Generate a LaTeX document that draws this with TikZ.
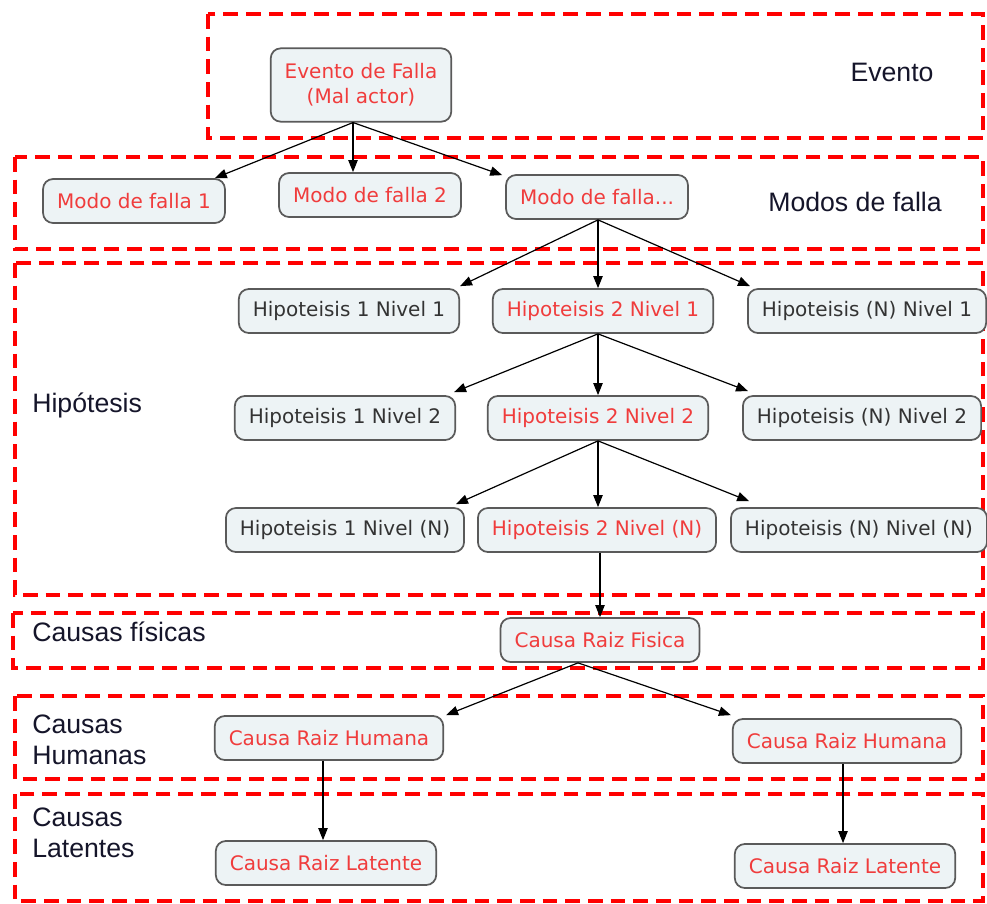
\documentclass[tikz,border=0pt]{standalone}
\usepackage{fontspec}
\setmainfont{DejaVu Sans}
\newfontfamily\labelfont{Liberation Sans}
\usetikzlibrary{arrows.meta,calc}

\definecolor{boxfill}{HTML}{EDF3F5}
\definecolor{boxline}{HTML}{5A5A5A}
\definecolor{redtext}{HTML}{F03C3C}
\definecolor{graytext}{HTML}{333333}
\definecolor{labeltext}{HTML}{15152A}

\tikzset{
  region/.style={draw=red, line width=2.4pt, dash pattern=on 11pt off 6pt},
  nodebox/.style={draw=boxline, fill=boxfill, line width=1.3pt, rounded corners=7.5pt,
    minimum height=33pt, inner xsep=10.5pt, inner ysep=2pt,
    font=\fontsize{15pt}{18.75pt}\selectfont, align=center},
  redbox/.style={nodebox, text=redtext},
  graybox/.style={nodebox, text=graytext},
  lbl/.style={font=\labelfont\fontsize{20pt}{23pt}\selectfont, text=labeltext, align=left, inner sep=0pt},
  link/.style={draw=black, line width=0.9pt, -{Triangle[length=9pt,width=7pt]}}
}

\begin{document}
\begin{tikzpicture}[x=0.75pt, y=-0.75pt]
\useasboundingbox (0,0) rectangle (987,903);

% dashed regions
\draw[region] (208,14) rectangle (983,138);
\draw[region] (15,157) rectangle (983,249);
\draw[region] (15,263) rectangle (983,595);
\draw[region] (13,613) rectangle (983,668);
\draw[region] (15,696) rectangle (983,779);
\draw[region] (15,794) rectangle (983,901);

% region labels
\node[lbl] (lev) at (892,72) {Evento};
\node[lbl] (lmod) at (855,202) {Modos de falla};
\node[lbl, anchor=west] (lhip) at (32,405) {Hipótesis};
\node[lbl, anchor=west] (lfis) at (32,632) {Causas físicas};
\node[lbl, anchor=west] (lhum) at (32,740) {Causas\\Humanas};
\node[lbl, anchor=west] (llat) at (32,833) {Causas\\Latentes};

% event
\node[redbox, minimum height=55pt] (ev) at (361,85) {Evento de Falla\\(Mal actor)};

% failure modes
\node[redbox] (m1) at (134,201) {Modo de falla 1};
\node[redbox] (m2) at (370,195) {Modo de falla 2};
\node[redbox] (m3) at (597,197) {Modo de falla...};

% hypotheses
\node[graybox] (h11) at (349,311) {Hipoteisis 1 Nivel 1};
\node[redbox]  (h21) at (603,311) {Hipoteisis 2 Nivel 1};
\node[graybox] (hn1) at (867,311) {Hipoteisis (N) Nivel 1};
\node[graybox] (h12) at (345,418) {Hipoteisis 1 Nivel 2};
\node[redbox]  (h22) at (598,418) {Hipoteisis 2 Nivel 2};
\node[graybox] (hn2) at (862,418) {Hipoteisis (N) Nivel 2};
\node[graybox] (h1n) at (345,530) {Hipoteisis 1 Nivel (N)};
\node[redbox]  (h2n) at (597,530) {Hipoteisis 2 Nivel (N)};
\node[graybox] (hnn) at (859,530) {Hipoteisis (N) Nivel (N)};

% root causes
\node[redbox] (fis) at (600,640) {Causa Raiz Fisica};
\node[redbox] (huml) at (329,738) {Causa Raiz Humana};
\node[redbox] (humr) at (847,741) {Causa Raiz Humana};
\node[redbox] (latl) at (326,863) {Causa Raiz Latente};
\node[redbox] (latr) at (845,866) {Causa Raiz Latente};

% connectors
\coordinate (evs) at ($(ev.south)+(-8,0)$);
\draw[link] (evs) -- ($(m1.north east)+(-11,0)$);
\draw[link] (evs) -- (evs |- m2.north);
\draw[link] (evs) -- ($(m3.north west)+(-3,1)$);

\coordinate (m3s) at ($(m3.south)+(1,0)$);
\draw[link] (m3s) -- ($(h11.north east)+(0,-2)$);
\draw[link] (m3s) -- (m3s |- h21.north);
\draw[link] (m3s) -- ($(hn1.north west)+(3,-2)$);

\coordinate (h21s) at ($(h21.south)+(-5,0)$);
\draw[link] (h21s) -- ($(h12.north east)+(-2,-3)$);
\draw[link] (h21s) -- (h21s |- h22.north);
\draw[link] (h21s) -- ($(hn2.north west)+(6,-4)$);

\coordinate (h22s) at (h22.south);
\draw[link] (h22s) -- ($(h1n.north east)+(-9,-3)$);
\draw[link] (h22s) -- (h22s |- h2n.north);
\draw[link] (h22s) -- ($(hnn.north west)+(19,-6)$);

\coordinate (h2ns) at ($(h2n.south)+(3,0)$);
\draw[link] (h2ns) -- (h2ns |- fis.north);

\coordinate (fiss) at ($(fis.south)+(-22,0)$);
\draw[link] (fiss) -- ($(huml.north east)+(2,0)$);
\draw[link] (fiss) -- ($(humr.north west)+(-1,-3)$);

\coordinate (humls) at ($(huml.south)+(-6,0)$);
\draw[link] (humls) -- (humls |- latl.north);
\coordinate (humrs) at ($(humr.south)+(-4,0)$);
\draw[link] (humrs) -- (humrs |- latr.north);
\end{tikzpicture}
\end{document}
